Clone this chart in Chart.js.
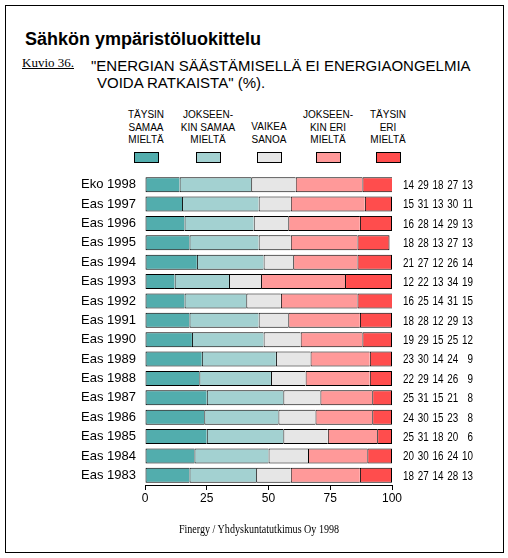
<!DOCTYPE html>
<html>
<head>
<meta charset="utf-8">
<script src="https://cdn.jsdelivr.net/npm/chart.js@4"></script>
<style>
  body { margin: 0; background: #fff; font-family: "Liberation Sans", Arial, sans-serif; }
  #page { position: relative; width: 508px; height: 558px; overflow: hidden; }
  #frame { position: absolute; left: 5px; top: 5px; width: 497px; height: 546px; border: 1px solid #000; }
  .txt { position: absolute; white-space: nowrap; color: #000; }
  #title { left: 25px; top: 29px; font-size: 18px; font-weight: bold; }
  #fig { left: 22px; top: 55px; font-family: "Liberation Serif", "Times New Roman", serif; font-size: 13px; text-decoration: underline; }
  #sub1 { left: 91px; top: 57px; font-size: 15px; }
  #sub2 { left: 97px; top: 74px; font-size: 15px; }
  #source { left: 259px; top: 522px; font-family: "Liberation Serif", "Times New Roman", serif; font-size: 12px; transform: translateX(-50%) scaleX(0.84); }
  .leg { position: absolute; top: 109px; width: 70px; margin-left: -35px; text-align: center; font-size: 10px; line-height: 12.5px; }
  .sw { position: absolute; top: 152px; width: 23px; height: 9px; margin-left: -12px; border: 1px solid #000; }
  #chartBox { position: absolute; left: 0; top: 0; width: 508px; height: 558px; }
</style>
</head>
<body>
<div id="page">
  <div id="frame"></div>
  <div class="txt" id="title">Sähkön ympäristöluokittelu</div>
  <div class="txt" id="fig">Kuvio 36.</div>
  <div class="txt" id="sub1">"ENERGIAN SÄÄSTÄMISELLÄ EI ENERGIAONGELMIA</div>
  <div class="txt" id="sub2">VOIDA RATKAISTA" (%).</div>
  <div id="legend"></div>
  <div id="chartBox"><canvas id="chart"></canvas></div>
  <div class="txt" id="source">Finergy / Yhdyskuntatutkimus Oy 1998</div>
</div>
<script>
// survey rows, top to bottom
const years = ['Eko 1998', 'Eas 1997', 'Eas 1996', 'Eas 1995', 'Eas 1994', 'Eas 1993', 'Eas 1992', 'Eas 1991',
               'Eas 1990', 'Eas 1989', 'Eas 1988', 'Eas 1987', 'Eas 1986', 'Eas 1985', 'Eas 1984', 'Eas 1983'];

const fullyAgree     = [14, 15, 16, 18, 21, 12, 16, 18, 19, 23, 22, 25, 24, 25, 20, 18];
const partlyAgree    = [29, 31, 28, 28, 27, 22, 25, 28, 29, 30, 29, 31, 30, 31, 30, 27];
const hardToSay      = [18, 13, 14, 13, 12, 13, 14, 12, 15, 14, 14, 15, 15, 18, 16, 14];
const partlyDisagree = [27, 30, 29, 27, 26, 34, 31, 29, 25, 24, 26, 21, 23, 20, 24, 28];
const fullyDisagree  = [13, 11, 13, 13, 14, 19, 15, 13, 12,  9,  9,  8,  8,  6, 10, 13];

const seriesLabels = [
    ['TÄYSIN', 'SAMAA', 'MIELTÄ'],
    ['JOKSEEN-', 'KIN SAMAA', 'MIELTÄ'],
    ['VAIKEA', 'SANOA'],
    ['JOKSEEN-', 'KIN ERI', 'MIELTÄ'],
    ['TÄYSIN', 'ERI', 'MIELTÄ']
];
const xTicks = [0, 25, 50, 75, 100];

const colors = ['#52adad', '#a3d1d1', '#e6e6e6', '#ff9999', '#ff4d4d'];
const allSeries = [fullyAgree, partlyAgree, hardToSay, partlyDisagree, fullyDisagree];

// html legend above the plot
const legendX = [146, 208, 269, 328, 388];
const legendTop = [109, 109, 121, 109, 109];
const legendBox = document.getElementById('legend');
seriesLabels.forEach((lines, i) => {
    const t = document.createElement('div');
    t.className = 'leg';
    t.style.left = legendX[i] + 'px';
    t.style.top = legendTop[i] + 'px';
    t.innerHTML = lines.join('<br>');
    legendBox.appendChild(t);
    const s = document.createElement('div');
    s.className = 'sw';
    s.style.left = legendX[i] + 'px';
    s.style.background = colors[i];
    legendBox.appendChild(s);
});

// numbers printed to the right of each bar (narrowed a bit like the original)
const valueColumns = {
    id: 'valueColumns',
    afterDraw(chart) {
        const ctx = chart.ctx;
        const yScale = chart.scales.y;
        const right = chart.chartArea.right;
        const squeeze = 0.82;
        ctx.save();
        ctx.font = '12px "Liberation Sans", Arial, sans-serif';
        ctx.fillStyle = '#000';
        ctx.textAlign = 'right';
        ctx.textBaseline = 'middle';
        years.forEach((_, i) => {
            const y = yScale.getPixelForValue(i);
            allSeries.forEach((arr, s) => {
                const x = right + 22 + s * 14.75;
                ctx.save();
                ctx.translate(x, y + 1);
                ctx.scale(squeeze, 1);
                ctx.fillText(String(arr[i]), 0, 0);
                ctx.restore();
            });
        });
        ctx.restore();
    }
};

const ctx = document.getElementById('chart').getContext('2d');
new Chart(ctx, {
    type: 'bar',
    data: {
        labels: years,
        datasets: allSeries.map((arr, i) => ({
            label: seriesLabels[i].join(' '),
            data: arr,
            backgroundColor: colors[i],
            borderColor: '#000',
            borderWidth: { top: 1, bottom: 1, left: 1, right: i === allSeries.length - 1 ? 1 : 0 },
            borderSkipped: false,
            barPercentage: 0.78,
            categoryPercentage: 1
        }))
    },
    options: {
        indexAxis: 'y',
        responsive: true,
        maintainAspectRatio: false,
        animation: false,
        layout: { padding: { left: 0, top: 175, right: 116, bottom: 53 } },
        plugins: {
            legend: { display: false },
            tooltip: { enabled: false },
            title: { display: false }
        },
        scales: {
            x: {
                stacked: true,
                min: 0,
                max: 100,
                afterFit: (s) => { s.height = 20; },
                afterBuildTicks: (s) => { s.ticks = xTicks.map(v => ({ value: v })); },
                grid: { drawOnChartArea: false, drawTicks: true, tickLength: 5, color: '#000' },
                border: { color: '#000', width: 1 },
                ticks: {
                    color: '#000',
                    padding: 1,
                    maxRotation: 0,
                    font: { family: '"Liberation Sans", Arial, sans-serif', size: 12 }
                }
            },
            y: {
                stacked: true,
                afterFit: (s) => { s.width = 145; },
                grid: { display: false, drawTicks: false },
                border: { display: false },
                ticks: {
                    color: '#000',
                    padding: 9,
                    autoSkip: false,
                    font: { family: '"Liberation Sans", Arial, sans-serif', size: 13 }
                }
            }
        }
    },
    plugins: [valueColumns]
});
</script>
</body>
</html>
